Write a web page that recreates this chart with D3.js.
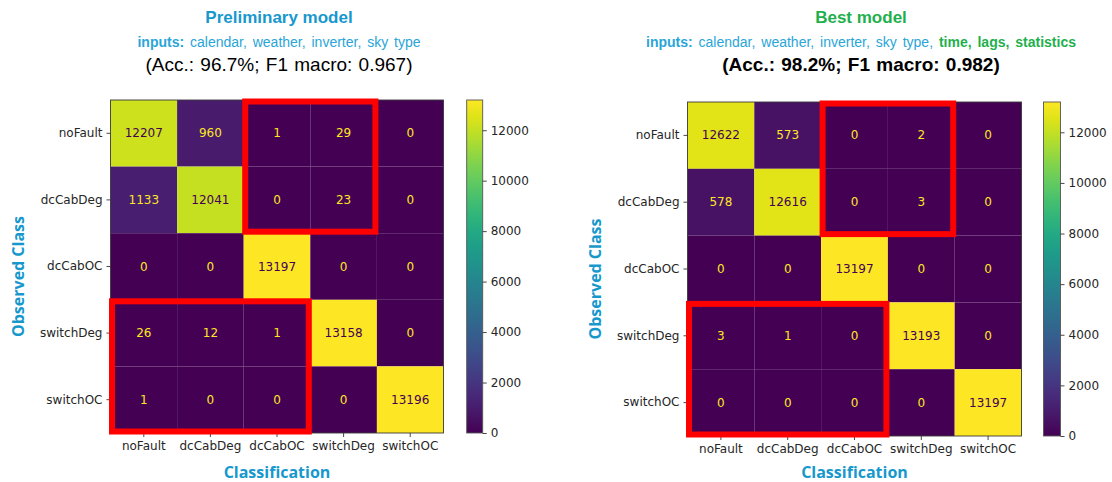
<!DOCTYPE html>
<html>
<head>
<meta charset="utf-8">
<script src="https://cdn.jsdelivr.net/npm/d3@7/dist/d3.min.js"></script>
<style>
  html, body { margin: 0; padding: 0; background: #fff; }
  svg { display: block; }
  .tick text { font-family: "DejaVu Sans", sans-serif; font-size: 12px; fill: #262626; }
  .tick line { stroke: #333; stroke-width: 0.9; }
</style>
</head>
<body>
<svg id="chart" width="1112" height="482"></svg>
<script>
// Class labels shared by both confusion matrices
const classes = ["noFault", "dcCabDeg", "dcCabOC", "switchDeg", "switchOC"];

// Confusion matrix counts (rows = observed class, columns = classification)
const preliminaryCounts = [
  [12207,   960,     1,    29,     0],
  [ 1133, 12041,     0,    23,     0],
  [    0,     0, 13197,     0,     0],
  [   26,    12,     1, 13158,     0],
  [    1,     0,     0,     0, 13196]
];
const bestCounts = [
  [12622,   573,     0,     2,     0],
  [  578, 12616,     0,     3,     0],
  [    0,     0, 13197,     0,     0],
  [    3,     1,     0, 13193,     0],
  [    0,     0,     0,     0, 13197]
];

// Colour bar tick values
const colorbarTicks = [0, 2000, 4000, 6000, 8000, 10000, 12000];

// Off-diagonal blocks outlined in red (row index range, column index range)
const highlightBlocks = [
  { rows: [0, 1], cols: [2, 3] },
  { rows: [3, 4], cols: [0, 2] }
];

const BLUE = "#1798cd";
const LIGHT_BLUE = "#2aa5d8";
const GREEN = "#1fb04e";

const svg = d3.select("#chart");
const defs = svg.append("defs");

function drawPanel(opts) {
  const { counts, x0, y0, size, cbX, cbW, gradId } = opts;
  const flat = counts.flat();
  const vmin = d3.min(flat), vmax = d3.max(flat);
  const color = d3.scaleSequential(d3.interpolateViridis).domain([vmin, vmax]);
  const mid = (vmin + vmax) / 2;

  const xBand = d3.scaleBand().domain(classes).range([x0, x0 + size]);
  const yBand = d3.scaleBand().domain(classes).range([y0, y0 + size]);

  const g = svg.append("g");

  const cells = [];
  counts.forEach((row, i) => row.forEach((v, j) => cells.push({ r: classes[i], c: classes[j], v })));

  g.selectAll("rect.cell").data(cells).join("rect")
    .attr("class", "cell")
    .attr("x", d => xBand(d.c))
    .attr("y", d => yBand(d.r))
    .attr("width", xBand.bandwidth())
    .attr("height", yBand.bandwidth())
    .attr("fill", d => color(d.v));

  g.selectAll("text.val").data(cells).join("text")
    .attr("class", "val")
    .attr("x", d => xBand(d.c) + xBand.bandwidth() / 2)
    .attr("y", d => yBand(d.r) + yBand.bandwidth() / 2)
    .attr("text-anchor", "middle")
    .attr("dominant-baseline", "central")
    .attr("font-family", "DejaVu Sans, sans-serif")
    .attr("font-size", 12)
    .attr("fill", d => d.v < mid ? color(vmax) : color(vmin))
    .text(d => d.v);

  // frame around the matrix
  g.append("rect")
    .attr("x", x0).attr("y", y0).attr("width", size).attr("height", size)
    .attr("fill", "none").attr("stroke", "#3a3a3a").attr("stroke-width", 0.9);

  // axes
  const yAxis = g.append("g").attr("transform", `translate(${x0},0)`)
    .call(d3.axisLeft(yBand).tickSize(4).tickSizeOuter(0).tickPadding(4));
  yAxis.select(".domain").remove();
  const xAxis = g.append("g").attr("transform", `translate(0,${y0 + size})`)
    .call(d3.axisBottom(xBand).tickSize(4).tickSizeOuter(0).tickPadding(4));
  xAxis.select(".domain").remove();

  // red outlines
  const inset = 1.5;
  highlightBlocks.forEach(b => {
    const bx0 = xBand(classes[b.cols[0]]), bx1 = xBand(classes[b.cols[1]]) + xBand.bandwidth();
    const by0 = yBand(classes[b.rows[0]]), by1 = yBand(classes[b.rows[1]]) + yBand.bandwidth();
    g.append("rect")
      .attr("x", bx0 + inset).attr("y", by0 + inset)
      .attr("width", bx1 - bx0 - 2 * inset).attr("height", by1 - by0 - 2 * inset)
      .attr("fill", "none").attr("stroke", "#ff0000").attr("stroke-width", 6);
  });

  // colour bar
  const grad = defs.append("linearGradient").attr("id", gradId)
    .attr("x1", 0).attr("y1", 1).attr("x2", 0).attr("y2", 0);
  d3.range(0, 1.0001, 0.05).forEach(t => {
    grad.append("stop").attr("offset", t).attr("stop-color", d3.interpolateViridis(t));
  });
  const cbScale = d3.scaleLinear().domain([vmin, vmax]).range([y0 + size, y0]);
  g.append("rect")
    .attr("x", cbX).attr("y", y0).attr("width", cbW).attr("height", size)
    .attr("fill", `url(#${gradId})`).attr("stroke", "#555").attr("stroke-width", 0.9);
  const cbAxis = g.append("g").attr("transform", `translate(${cbX + cbW},0)`)
    .call(d3.axisRight(cbScale).tickValues(colorbarTicks).tickFormat(d3.format("d"))
      .tickSize(4).tickSizeOuter(0).tickPadding(4));
  cbAxis.select(".domain").remove();

  // axis titles
  const axisFont = "'Open Sans', sans-serif";
  g.append("text")
    .attr("x", x0 + size / 2).attr("y", 478)
    .attr("text-anchor", "middle")
    .attr("font-family", axisFont).attr("font-weight", 700).attr("font-size", 16)
    .attr("fill", BLUE).text("Classification");
  g.append("text")
    .attr("transform", `translate(${opts.ylabelX},${y0 + size / 2 + 10}) rotate(-90)`)
    .attr("text-anchor", "middle")
    .attr("font-family", axisFont).attr("font-weight", 700).attr("font-size", 16)
    .attr("fill", BLUE).text("Observed Class");
}

function drawTitle(cx, title, titleColor, inputsPlain, inputsExtra, accText, accBold) {
  const font = "'Liberation Sans', Arial, sans-serif";
  svg.append("text")
    .attr("x", cx).attr("y", 23).attr("text-anchor", "middle")
    .attr("font-family", font).attr("font-weight", 700).attr("font-size", 17)
    .attr("fill", titleColor).text(title);

  const line = svg.append("text")
    .attr("x", cx).attr("y", 47).attr("text-anchor", "middle")
    .attr("font-family", font).attr("font-size", 14).attr("word-spacing", 2);
  line.append("tspan").attr("font-weight", 700).attr("fill", LIGHT_BLUE).text("inputs: ");
  line.append("tspan").attr("fill", LIGHT_BLUE).text(inputsPlain);
  if (inputsExtra) {
    line.append("tspan").attr("font-weight", 700).attr("fill", GREEN).text(inputsExtra);
  }

  svg.append("text")
    .attr("x", cx).attr("y", 71).attr("text-anchor", "middle")
    .attr("font-family", font).attr("font-size", 19).attr("word-spacing", 1)
    .attr("font-weight", accBold ? 700 : 400)
    .attr("fill", "#000").text(accText);
}

drawPanel({ counts: preliminaryCounts, x0: 110.5, y0: 100, size: 333, cbX: 466.7, cbW: 16, gradId: "cbLeft", ylabelX: 24 });
drawPanel({ counts: bestCounts, x0: 687.5, y0: 102, size: 334, cbX: 1043.5, cbW: 17, gradId: "cbRight", ylabelX: 601 });

drawTitle(279, "Preliminary model", BLUE,
  "calendar, weather, inverter, sky type", null,
  "(Acc.: 96.7%; F1 macro: 0.967)", false);
drawTitle(861, "Best model", GREEN,
  "calendar, weather, inverter, sky type, ", "time, lags, statistics",
  "(Acc.: 98.2%; F1 macro: 0.982)", true);
</script>
</body>
</html>
